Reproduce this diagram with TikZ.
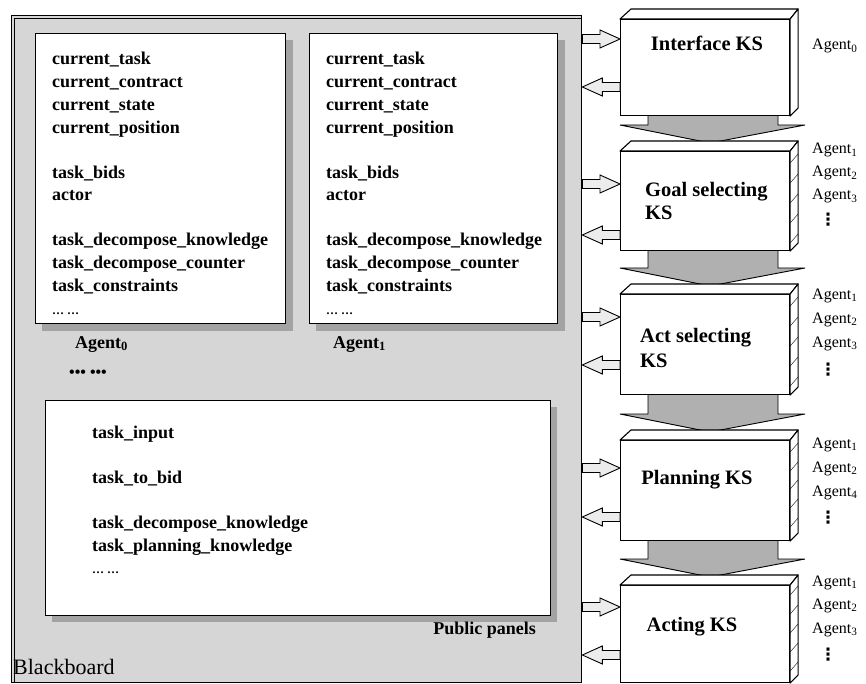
\documentclass[tikz,border=0pt]{standalone}
\usepackage{fontspec}
\setmainfont{Liberation Serif}
\newfontfamily\symbolfont{DejaVu Sans}
\usetikzlibrary{calc,backgrounds}

% outline of one knowledge-source box: top face and right side face
\newcommand\ksfaces[1]{%
  \draw[face] (#1.north west) -- ++(11,-10) -- ($(#1.north east)+(8,-10)$)
    -- (#1.north east) -- cycle;
  \draw[face] (#1.north east) -- ++(8,-10) -- ($(#1.south east)+(8,-8)$)
    -- (#1.south east) -- cycle;}
% layer ticks on the side face
\newcommand\ksticks[2]{%
  \foreach \d in {#2} {\draw[thin] ($(#1.north east)+(0,\d)$) -- ++(8,-9);}}
% hollow arrow from the blackboard into a box, and back again
\newcommand\linkin[2]{%
  \draw[link] let \p1=(bb.east), \p2=($(#1.north west)+(0,#2)$) in
    (\x1,\y2+4.5pt) -- (\x2-20pt,\y2+4.5pt) -- (\x2-20pt,\y2+9pt) -- (\x2,\y2)
    -- (\x2-20pt,\y2-9pt) -- (\x2-20pt,\y2-4.5pt) -- (\x1,\y2-4.5pt) -- cycle;}
\newcommand\linkout[2]{%
  \draw[link] let \p1=(bb.east), \p2=($(#1.north west)+(0,#2)$) in
    (\x2,\y2+4.5pt) -- (\x1+20pt,\y2+4.5pt) -- (\x1+20pt,\y2+9pt) -- (\x1,\y2)
    -- (\x1+20pt,\y2-9pt) -- (\x1+20pt,\y2-4.5pt) -- (\x2,\y2-4.5pt) -- cycle;}
% broad shaded arrow from one box down to the next
\newcommand\flowdown[2]{%
  \draw[flow] let \p1=(#1.south west), \p2=(#2.north west) in
    (\x1+28pt,\y1+5pt) -- (\x1+28pt,\y2+26pt) -- (\x1,\y2+26pt)
    -- (\x1+90pt,\y2+8pt) -- (\x1+185pt,\y2+26pt) -- (\x1+158pt,\y2+26pt)
    -- (\x1+158pt,\y1+5pt) -- cycle;}

\begin{document}
\begin{tikzpicture}[x=1pt,y=-1pt,
  board/.style={draw, line width=1.3pt, fill=gray!32, inner sep=0,
    anchor=north west},
  panel/.style={draw, line width=1.2pt, fill=white, inner sep=0,
    anchor=north west},
  shade/.style={fill=gray!72},
  field/.style={font=\bfseries\fontsize{18}{18}\selectfont, anchor=base west,
    inner sep=0},
  owner/.style={font=\bfseries\fontsize{18}{18}\selectfont, anchor=base west,
    inner sep=0},
  ks/.style={draw, line width=1.1pt, fill=white, inner sep=0,
    anchor=north west, minimum width=169},
  face/.style={draw, line width=1.1pt, fill=white, line join=round},
  kstext/.style={font=\bfseries\fontsize{20.5}{24}\selectfont, inner sep=0},
  agent/.style={font=\fontsize{16}{16}\selectfont, anchor=base west,
    inner sep=0},
  more/.style={font=\symbolfont\bfseries\fontsize{17}{17}\selectfont,
    anchor=base, inner sep=0},
  link/.style={draw, line width=0.9pt, fill=gray!15, line join=miter},
  flow/.style={draw, line width=0.9pt, fill=gray!62, line join=miter}]
\useasboundingbox (0,0) rectangle (866,684);

% ---- blackboard ----
\node[board, minimum width=570, minimum height=667] (bb) at (11,15) {};
\draw[thin] ($(bb.north west)+(3,3)$) -- ($(bb.south west)+(3,0)$);
\draw[thin] ($(bb.north west)+(3,3)$) -- ($(bb.north east)+(0,3)$);
\node[font=\fontsize{22}{22}\selectfont, anchor=base west, inner sep=0]
  (bbname) at (13,674) {Blackboard};

% ---- agent panels ----
\fill[shade] (42,40) rectangle (293,331);
\node[panel, minimum width=250, minimum height=290] (p0) at (35,33) {};
\fill[shade] (316,40) rectangle (565,331);
\node[panel, minimum width=248, minimum height=290] (p1) at (309,33) {};

\foreach \px/\pn in {52/q, 326/r} {
  \node[field] (\pn1) at (\px,65) {current\_task};
  \node[field] (\pn2) at (\px,88) {current\_contract};
  \node[field] (\pn3) at (\px,111) {current\_state};
  \node[field] (\pn4) at (\px,134) {current\_position};
  \node[field] (\pn5) at (\px,179) {task\_bids};
  \node[field] (\pn6) at (\px,201) {actor};
  \node[field] (\pn7) at (\px,246) {task\_decompose\_knowledge};
  \node[field] (\pn8) at (\px,269) {task\_decompose\_counter};
  \node[field] (\pn9) at (\px,291) {task\_constraints};
  \node[field, font=\bfseries\fontsize{12}{12}\selectfont] (\pn10) at (\px,314) {… …};
}

\node[owner] (own0) at (75,348) {Agent\textsubscript{0}};
\node[owner] (own1) at (333,348) {Agent\textsubscript{1}};
\node[owner, font=\bfseries\fontsize{16}{16}\selectfont] (owndots) at (69,377) {••• •••};

% ---- public panel ----
\fill[shade] (52,407) rectangle (557,622);
\node[panel, minimum width=505, minimum height=215] (pub) at (45,400) {};
\node[field] (s1) at (92,438) {task\_input};
\node[field] (s2) at (92,483) {task\_to\_bid};
\node[field] (s3) at (92,528) {task\_decompose\_knowledge};
\node[field] (s4) at (92,551) {task\_planning\_knowledge};
\node[field, font=\bfseries\fontsize{12}{12}\selectfont] (s5) at (92,573) {… …};
\node[owner, anchor=base east] (pubname) at (536,634) {Public panels};

% ---- knowledge sources (front faces) ----
\node[ks, minimum height=96] (k0) at (620,19) {};
\node[ks, minimum height=99] (k1) at (620,151) {};
\node[ks, minimum height=100] (k2) at (620,294) {};
\node[ks, minimum height=100] (k3) at (620,440) {};
\node[ks, minimum height=97] (k4) at (620,585) {};

% shaded flow between successive knowledge sources, behind the boxes
\begin{pgfonlayer}{background}
\flowdown{k0}{k1}
\flowdown{k1}{k2}
\flowdown{k2}{k3}
\flowdown{k3}{k4}
\end{pgfonlayer}

\ksfaces{k0}
\ksfaces{k1} \ksticks{k1}{12,32,52,72,92}
\ksfaces{k2} \ksticks{k2}{12,32,52,72,92}
\ksfaces{k3} \ksticks{k3}{12,31,49,68,87}
\ksfaces{k4} \ksticks{k4}{10,29,48,67,86}

% box titles
\node[kstext] (t0) at (707,43) {Interface KS};
\node[kstext, anchor=base west] (t1a) at (645,197) {Goal selecting};
\node[kstext, anchor=base west] (t1b) at (645,220) {KS};
\node[kstext, anchor=base west] (t2a) at (640,342) {Act selecting};
\node[kstext, anchor=base west] (t2b) at (640,367) {KS};
\node[kstext] (t3) at (697,480) {Planning KS};
\node[kstext] (t4) at (692,627) {Acting KS};

% ---- exchanges with the blackboard ----
\linkin{k0}{20}  \linkout{k0}{68}
\linkin{k1}{33}  \linkout{k1}{84}
\linkin{k2}{23}  \linkout{k2}{71}
\linkin{k3}{28}  \linkout{k3}{77}
\linkin{k4}{22}  \linkout{k4}{70}

% ---- agents running each knowledge source ----
\node[agent] (g0) at (812,50) {Agent\textsubscript{0}};

\node[agent] (g11) at (812,154) {Agent\textsubscript{1}};
\node[agent] (g12) at (812,177) {Agent\textsubscript{2}};
\node[agent] (g13) at (812,200) {Agent\textsubscript{3}};
\node[more] (g14) at (828,226) {⋮};

\node[agent] (g21) at (812,299) {Agent\textsubscript{1}};
\node[agent] (g22) at (812,323) {Agent\textsubscript{2}};
\node[agent] (g23) at (812,347) {Agent\textsubscript{3}};
\node[more] (g24) at (828,375) {⋮};

\node[agent] (g31) at (812,448) {Agent\textsubscript{1}};
\node[agent] (g32) at (812,472) {Agent\textsubscript{2}};
\node[agent] (g33) at (812,496) {Agent\textsubscript{4}};
\node[more] (g34) at (828,523) {⋮};

\node[agent] (g41) at (812,586) {Agent\textsubscript{1}};
\node[agent] (g42) at (812,609) {Agent\textsubscript{2}};
\node[agent] (g43) at (812,633) {Agent\textsubscript{3}};
\node[more] (g44) at (828,660) {⋮};
\end{tikzpicture}
\end{document}
